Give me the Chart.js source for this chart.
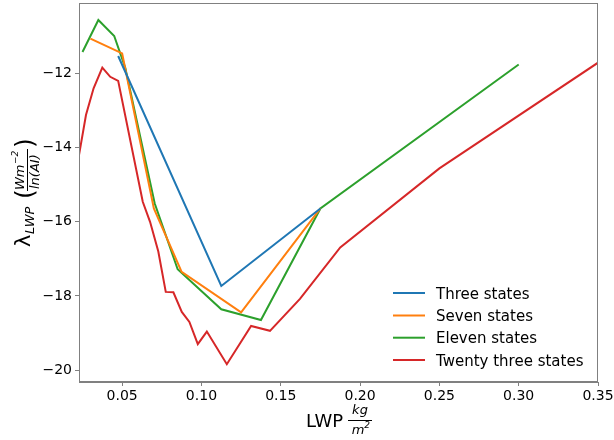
<!DOCTYPE html>
<html>
<head>
<meta charset="utf-8">
<script src="https://cdn.jsdelivr.net/npm/chart.js@4"></script>
<style>
  html, body { margin: 0; padding: 0; background: #fff; }
</style>
</head>
<body>
<canvas id="lwpChart" width="614" height="440"></canvas>
<script>
// series names and colours (matplotlib tab10)
const seriesNames = ['Three states', 'Seven states', 'Eleven states', 'Twenty three states'];
const seriesColors = ['#1f77b4', '#ff7f0e', '#2ca02c', '#d62728'];

// LWP values (x) and lambda values (y)
const threeX = [0.0475, 0.1125, 0.175];
const threeY = [-11.53, -17.73, -15.64];

const sevenX = [0.03, 0.05, 0.07, 0.0875, 0.125, 0.175];
const sevenY = [-11.06, -11.46, -15.64, -17.35, -18.44, -15.64];

const elevenX = [0.025, 0.035, 0.045, 0.052, 0.0705, 0.085, 0.1125, 0.1375, 0.175, 0.30];
const elevenY = [-11.42, -10.56, -10.99, -11.85, -15.5, -17.28, -18.36, -18.65, -15.64, -11.76];

const twentyThreeX = [0.0228, 0.0272, 0.032, 0.0375, 0.0425, 0.0475, 0.063, 0.0676, 0.0728, 0.0775,
  0.0823, 0.0876, 0.0924, 0.0977, 0.1034, 0.116, 0.1313, 0.1432, 0.1621, 0.1875, 0.25, 0.35];
const twentyThreeY = [-14.2, -13.12, -12.4, -11.84, -12.09, -12.2, -15.46, -16.0, -16.8, -17.89,
  -17.9, -18.43, -18.7, -19.3, -18.96, -19.84, -18.81, -18.94, -18.08, -16.69, -14.56, -11.71];

// tick labels
const xTicks = [0.05, 0.10, 0.15, 0.20, 0.25, 0.30, 0.35];
const yTicks = [-20, -18, -16, -14, -12];

const allX = [threeX, sevenX, elevenX, twentyThreeX];
const allY = [threeY, sevenY, elevenY, twentyThreeY];

Chart.defaults.font.family = 'DejaVu Sans';
Chart.defaults.color = '#000';

const spineColor = '#808080';

// box round the plot area, like matplotlib spines
const framePlugin = {
  id: 'frame',
  afterDraw(chart) {
    const a = chart.chartArea;
    const c = chart.ctx;
    c.save();
    c.strokeStyle = spineColor;
    c.lineWidth = 1;
    c.strokeRect(a.left + 0.5, a.top + 0.5, a.right - a.left - 1, a.bottom - a.top - 1);
    c.restore();
  }
};

// legend inside the axes, bottom right
const legendPlugin = {
  id: 'innerLegend',
  afterDraw(chart) {
    const c = chart.ctx;
    const rowY = [293, 315.5, 337.7, 360];
    c.save();
    c.font = '15px "DejaVu Sans"';
    c.textBaseline = 'alphabetic';
    chart.data.datasets.forEach((ds, i) => {
      c.strokeStyle = ds.borderColor;
      c.lineWidth = 2;
      c.beginPath();
      c.moveTo(393, rowY[i]);
      c.lineTo(425, rowY[i]);
      c.stroke();
      c.fillStyle = '#000';
      c.fillText(ds.label, 436, rowY[i] + 5.5);
    });
    c.restore();
  }
};

// axis titles with fractions
const titlePlugin = {
  id: 'axisTitles',
  afterDraw(chart) {
    const c = chart.ctx;
    c.save();
    c.fillStyle = '#000';
    c.strokeStyle = '#000';

    // x title: LWP kg/m^2
    c.textBaseline = 'alphabetic';
    c.textAlign = 'left';
    c.font = '18px "DejaVu Sans"';
    c.fillText('LWP', 306, 427);
    c.textAlign = 'center';
    c.font = 'italic 13px "DejaVu Sans"';
    c.fillText('kg', 360, 414);
    c.beginPath();
    c.lineWidth = 1;
    c.moveTo(348, 420.5);
    c.lineTo(372, 420.5);
    c.stroke();
    c.fillText('m', 358, 434);
    c.font = 'italic 9px "DejaVu Sans"';
    c.fillText('2', 367, 428);

    // y title, rotated
    c.translate(30, 247);
    c.rotate(-Math.PI / 2);
    c.textAlign = 'left';
    c.font = '21px "DejaVu Sans"';
    c.fillText('\u03bb', 0, 0);
    c.font = 'italic 13px "DejaVu Sans"';
    c.fillText('LWP', 13, 4);
    c.font = '25px "DejaVu Sans"';
    c.fillText('(', 48, 3);
    c.font = 'italic 13px "DejaVu Sans"';
    c.fillText('Wm', 57, -6);
    c.font = 'italic 9px "DejaVu Sans"';
    c.fillText('\u22122', 83, -12);
    c.font = 'italic 13px "DejaVu Sans"';
    c.fillText('ln(AI)', 58, 9);
    c.beginPath();
    c.moveTo(56, -2.5);
    c.lineTo(98, -2.5);
    c.stroke();
    c.font = '25px "DejaVu Sans"';
    c.fillText(')', 99, 3);
    c.restore();
  }
};

const datasets = seriesNames.map((name, i) => ({
  label: name,
  data: allX[i].map((x, j) => ({ x: x, y: allY[i][j] })),
  borderColor: seriesColors[i],
  backgroundColor: seriesColors[i],
  borderWidth: 2,
  pointRadius: 0,
  tension: 0,
  fill: false
}));

const ctx = document.getElementById('lwpChart').getContext('2d');
const lwpChart = new Chart(ctx, {
  type: 'line',
  data: { datasets: datasets },
  options: {
    responsive: false,
    animation: false,
    devicePixelRatio: 1,
    layout: { padding: { left: 0, top: 3, right: 16, bottom: 0 } },
    plugins: {
      legend: { display: false },
      tooltip: { enabled: false }
    },
    scales: {
      x: {
        type: 'linear',
        min: 0.0228,
        max: 0.35,
        afterBuildTicks(scale) { scale.ticks = xTicks.map(v => ({ value: v })); },
        afterFit(scale) {
          scale.height = 58;
          scale.paddingLeft = 0;
          scale.paddingRight = 0;
        },
        border: { display: true, color: spineColor },
        grid: { drawOnChartArea: false, drawTicks: true, tickLength: 4, color: spineColor },
        ticks: {
          font: { size: 14 },
          padding: 2,
          maxRotation: 0,
          callback: v => v.toFixed(2)
        }
      },
      y: {
        type: 'linear',
        min: -20.32,
        max: -10.1,
        afterBuildTicks(scale) { scale.ticks = yTicks.map(v => ({ value: v })); },
        afterFit(scale) {
          scale.width = 79;
          scale.paddingTop = 0;
          scale.paddingBottom = 0;
        },
        border: { display: true, color: spineColor },
        grid: { drawOnChartArea: false, drawTicks: true, tickLength: 4, color: spineColor },
        ticks: {
          font: { size: 14 },
          padding: 3,
          callback: v => (v < 0 ? '\u2212' + Math.abs(v) : String(v))
        }
      }
    }
  },
  plugins: [framePlugin, legendPlugin, titlePlugin]
});
</script>
</body>
</html>
